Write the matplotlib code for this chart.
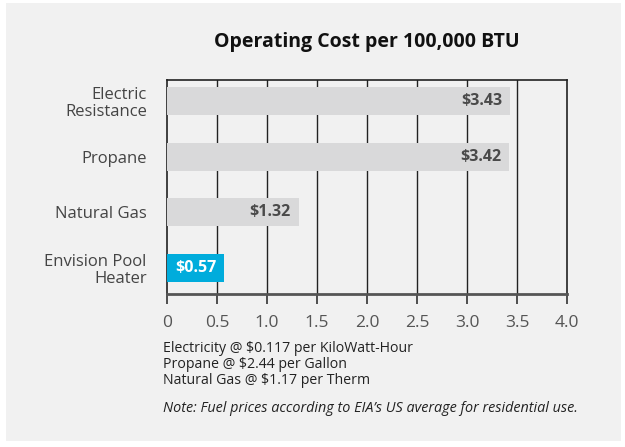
import matplotlib
matplotlib.use("Agg")
import matplotlib.pyplot as plt
from matplotlib.patches import Rectangle

categories = ["Electric\nResistance", "Propane", "Natural Gas", "Envision Pool\nHeater"]
costs = [3.43, 3.42, 1.32, 0.57]
cost_labels = ["$3.43", "$3.42", "$1.32", "$0.57"]
bar_colors = ["#d9d9da", "#d9d9da", "#d9d9da", "#00acdc"]
label_colors = ["#4a4a4a", "#4a4a4a", "#4a4a4a", "#ffffff"]
xticks = [0, 0.5, 1.0, 1.5, 2.0, 2.5, 3.0, 3.5, 4.0]
xtick_labels = ["0", "0.5", "1.0", "1.5", "2.0", "2.5", "3.0", "3.5", "4.0"]
notes = ["Electricity @ $0.117 per KiloWatt-Hour",
         "Propane @ $2.44 per Gallon",
         "Natural Gas @ $1.17 per Therm"]
footnote = "Note: Fuel prices according to EIA\u2019s US average for residential use."

plt.rcParams['font.family'] = ['Open Sans', 'DejaVu Sans']

W, H = 625, 447
fig = plt.figure(figsize=(W / 100, H / 100), dpi=100)
fig.patch.set_facecolor("white")
fig.add_artist(Rectangle((6 / W, 1 - 441 / H), 615 / W, 438 / H,
                         transform=fig.transFigure, facecolor="#f1f1f1",
                         edgecolor="none", zorder=-10))

# axes box: x 167..567, y 80..294 (pixels)
ax = fig.add_axes([167 / W, 1 - 294 / H, 400 / W, 214 / H])
ax.patch.set_alpha(0)

ypos = [3, 2, 1, 0]
ax.barh(ypos, costs, height=0.5, color=bar_colors, zorder=3)
for y, v, lab, c in zip(ypos, costs, cost_labels, label_colors):
    ax.text(v - 0.08, y, lab, ha="right", va="center", fontsize=11.5,
            fontweight="bold", color=c, zorder=4)

ax.set_xlim(0, 4.0)
ax.set_ylim(-0.47, 3.38)
ax.set_xticks(xticks)
ax.set_xticklabels(xtick_labels, fontsize=12.5, color="#555555")
ax.set_yticks(ypos)
ax.set_yticklabels(categories, fontsize=12, color="#444444", linespacing=1.1)
ax.tick_params(axis="y", length=0, pad=14.5)
ax.tick_params(axis="x", length=7, width=1.2, color="#333333", pad=8, direction="out")

for x in xticks[1:-1]:
    ax.axvline(x, color="#222222", linewidth=1.0, zorder=1)

for s in ["top", "left", "right"]:
    ax.spines[s].set_color("#222222")
    ax.spines[s].set_linewidth(1.2)
ax.spines["bottom"].set_color("#555555")
ax.spines["bottom"].set_linewidth(2.0)

fig.text(367 / W, 1 - 42 / H, "Operating Cost per 100,000 BTU", ha="center",
         va="center", fontsize=14, fontweight="bold", color="#111111")

for i, n in enumerate(notes):
    fig.text(163 / W, 1 - (349 + 16 * i) / H, n, ha="left", va="center",
             fontsize=10.2, color="#222222")
fig.text(163 / W, 1 - 409 / H, footnote, ha="left", va="center",
         fontsize=10.4, style="italic", color="#222222")

fig.savefig("out.png", dpi=100, facecolor=fig.get_facecolor())
